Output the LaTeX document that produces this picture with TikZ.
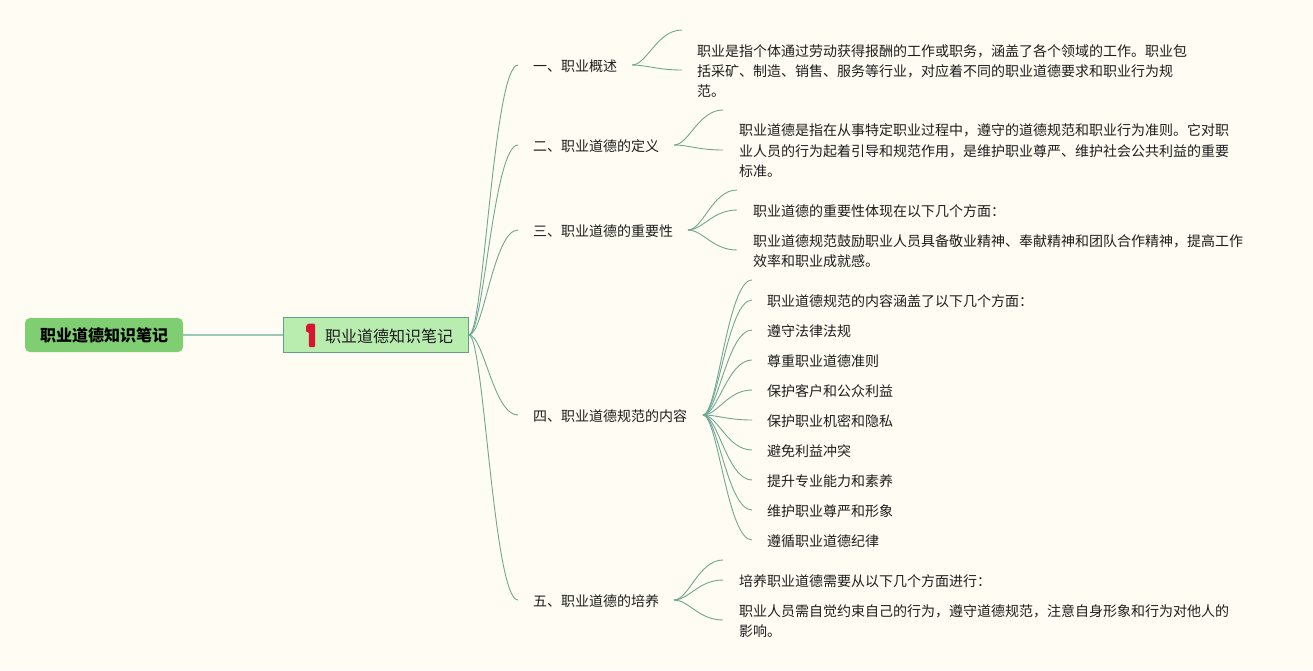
\documentclass[tikz,border=0pt]{standalone}
\usepackage{fontspec}
\setmainfont{Noto Sans CJK SC}
\usetikzlibrary{calc}
\definecolor{bgc}{HTML}{FFFCF3}
\definecolor{rootc}{HTML}{7FCE71}
\definecolor{mainc}{HTML}{B9EDB0}
\definecolor{mainb}{HTML}{5FA28C}
\definecolor{linec}{HTML}{6FA892}
\definecolor{linem}{HTML}{9CC7B5}
\definecolor{txtc}{HTML}{1E1E1E}
\definecolor{redc}{HTML}{D8152F}
\tikzset{
  rootbox/.style={draw=none,fill=rootc,rounded corners=5pt,minimum width=158pt,minimum height=34pt,inner sep=0pt,font=\fontsize{16}{20}\selectfont\bfseries,text=black},
  mainbox/.style={draw=mainb,line width=0.8pt,fill=mainc,minimum width=185pt,minimum height=35pt,inner sep=0pt,anchor=center},
  maintext/.style={inner sep=0pt,font=\fontsize{16}{20}\selectfont,text=txtc,anchor=west},
  topic/.style={inner sep=0pt,anchor=west,align=left,text=txtc,font=\fontsize{14}{20.4}\selectfont},
  conn/.style={draw=linec,line width=0.9pt},
}
\newcommand{\curveconn}[2]{%
  \draw[conn] let \p1=(#1),\p2=(#2) in (\p1) .. controls ({\x1+0.3*(\x2-\x1)},\y1) and ({\x1+0.5*(\x2-\x1)},\y2) .. (\p2);}
\begin{document}
\begin{tikzpicture}[x=1pt,y=-1pt]
\fill[bgc] (0,0) rectangle (1313,670);
\useasboundingbox (0,0) rectangle (1313,670);
% hubs
\node[rootbox] (root) at (104,335) {职业道德知识笔记};
\node[mainbox] (main) at (375.5,335) {};
\node[maintext] (maint) at (325,336) {职业道德知识笔记};
\draw[draw=linem,line width=1.5pt] (root.east) -- (main.west);
\fill[redc,rounded corners=1pt] (308.3,323.5) -- (315,323.5) -- (315,347) -- (308.8,347) -- (308.8,332) -- (306,332) -- (306,326) -- cycle;
% level-1 labels
\node[topic] (a) at (533,66) {一、职业概述};
\node[topic] (b) at (533,146) {二、职业道德的定义};
\node[topic] (c) at (533,231) {三、职业道德的重要性};
\node[topic] (d) at (533,416) {四、职业道德规范的内容};
\node[topic] (e) at (533,601) {五、职业道德的培养};
% level-1 line ends
\coordinate (ha) at (469,335);
\coordinate (ea) at (518,65);
\coordinate (eb) at (518,145);
\coordinate (ec) at (518,230);
\coordinate (ed) at (518,415);
\coordinate (ee) at (518,600);
\foreach \mm in {ea,eb,ec,ed,ee} {\curveconn{ha}{\mm}}
% group a
\coordinate (sa) at (632,65);
\coordinate (a0) at (682,30);
\coordinate (a1) at (682,70);
\node[topic] (ta) at (697,71) {职业是指个体通过劳动获得报酬的工作或职务，涵盖了各个领域的工作。职业包\\括采矿、制造、销售、服务等行业，对应着不同的职业道德要求和职业行为规\\范。};
\curveconn{sa}{a0}\curveconn{sa}{a1}
% group b
\coordinate (sb) at (674,145);
\coordinate (b0) at (723,110);
\coordinate (b1) at (723,150);
\node[topic] (tb) at (739,151) {职业道德是指在从事特定职业过程中，遵守的道德规范和职业行为准则。它对职\\业人员的行为起着引导和规范作用，是维护职业尊严、维护社会公共利益的重要\\标准。};
\curveconn{sb}{b0}\curveconn{sb}{b1}
% group c
\coordinate (sc) at (688,230);
\coordinate (c0) at (737,190);
\coordinate (c1) at (737,210);
\coordinate (c2) at (737,250);
\node[topic] (tc1) at (753,211) {职业道德的重要性体现在以下几个方面：};
\node[topic] (tc2) at (753,251) {职业道德规范鼓励职业人员具备敬业精神、奉献精神和团队合作精神，提高工作\\效率和职业成就感。};
\curveconn{sc}{c0}\curveconn{sc}{c1}\curveconn{sc}{c2}
% group d
\coordinate (sd) at (703,415);
\coordinate (d0) at (752,280);
\foreach \kk/\yy in {1/300,2/330,3/360,4/390,5/420,6/450,7/480,8/510,9/540} {\coordinate (d\kk) at (752,\yy);}
\node[topic] (td1) at (767,301) {职业道德规范的内容涵盖了以下几个方面：};
\node[topic] (td2) at (767,331) {遵守法律法规};
\node[topic] (td3) at (767,361) {尊重职业道德准则};
\node[topic] (td4) at (767,391) {保护客户和公众利益};
\node[topic] (td5) at (767,421) {保护职业机密和隐私};
\node[topic] (td6) at (767,451) {避免利益冲突};
\node[topic] (td7) at (767,481) {提升专业能力和素养};
\node[topic] (td8) at (767,511) {维护职业尊严和形象};
\node[topic] (td9) at (767,541) {遵循职业道德纪律};
\foreach \kk in {0,...,9} {\curveconn{sd}{d\kk}}
% group e
\coordinate (se) at (674,600);
\coordinate (e0) at (723,560);
\coordinate (e1) at (723,580);
\coordinate (e2) at (723,620);
\node[topic] (te1) at (739,581) {培养职业道德需要从以下几个方面进行：};
\node[topic] (te2) at (739,621) {职业人员需自觉约束自己的行为，遵守道德规范，注意自身形象和行为对他人的\\影响。};
\curveconn{se}{e0}\curveconn{se}{e1}\curveconn{se}{e2}
\end{tikzpicture}
\end{document}
